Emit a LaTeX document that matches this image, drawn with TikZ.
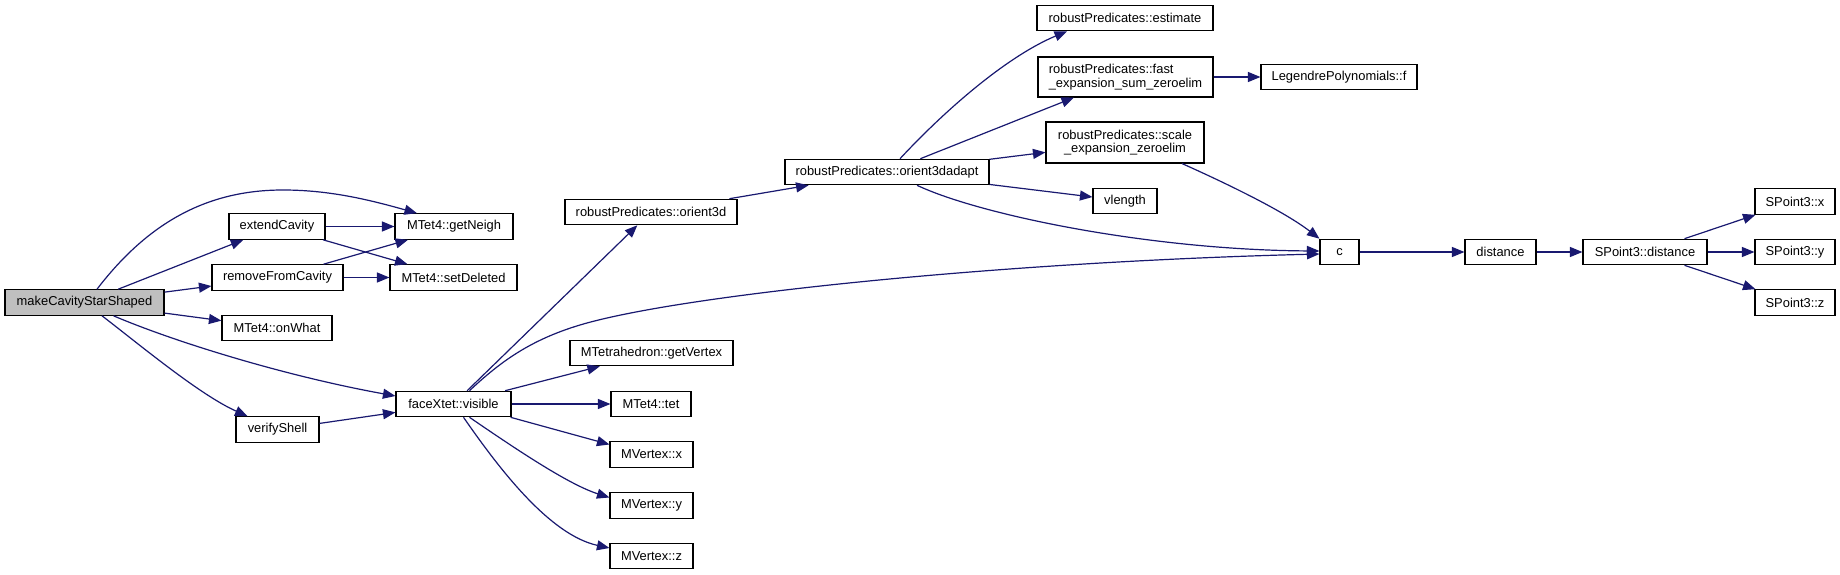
\documentclass[tikz,border=0pt]{standalone}
\usepackage{fontspec}
\setmainfont{Liberation Sans}
\usetikzlibrary{arrows.meta}
\definecolor{edgecol}{HTML}{191970}
\definecolor{rootfill}{HTML}{BFBFBF}
\tikzset{
  fn/.style={draw=black, line width=1.1pt, fill=white, rectangle, inner sep=0pt,
    minimum height=25.5pt, font=\fontsize{12.9}{13.6}\selectfont},
  rootfn/.style={fn, fill=rootfill},
  e/.style={draw=edgecol, line width=1.2pt, -{Triangle[length=12.5pt,width=10pt]}}
}
\begin{document}
\begin{tikzpicture}[x=1pt,y=-1pt]
\fill[white] (0,0) rectangle (1840,575);
\useasboundingbox (0,0) rectangle (1840,575);
% nodes
\node[rootfn, minimum width=159pt] (mk) at (84.5,302.5) {makeCavityStarShaped};
\node[fn, minimum width=96pt] (ext) at (277,226.5) {extendCavity};
\node[fn, minimum width=118pt] (gn) at (454,226.5) {MTet4::getNeigh};
\node[fn, minimum width=131pt] (rem) at (277.5,277.5) {removeFromCavity};
\node[fn, minimum width=127pt] (sd) at (453.5,277.5) {MTet4::setDeleted};
\node[fn, minimum width=110pt] (ow) at (277,328) {MTet4::onWhat};
\node[fn, minimum width=115pt] (vis) at (453.5,404) {faceXtet::visible};
\node[fn, minimum width=83pt] (ver) at (277.5,429.5) {verifyShell};
\node[fn, minimum width=172pt] (o3) at (651,212) {robustPredicates::orient3d};
\node[fn, minimum width=204pt] (o3a) at (887,172) {robustPredicates::orient3dadapt};
\node[fn, minimum width=163pt] (gv) at (651.5,353) {MTetrahedron::getVertex};
\node[fn, minimum width=80pt] (tet) at (651,404) {MTet4::tet};
\node[fn, minimum width=83pt] (vx) at (651.5,454.5) {MVertex::x};
\node[fn, minimum width=83pt] (vy) at (651.5,505.5) {MVertex::y};
\node[fn, minimum width=83pt] (vz) at (651.5,556) {MVertex::z};
\node[fn, minimum width=176pt] (est) at (1125,18) {robustPredicates::estimate};
\node[fn, minimum width=175pt, minimum height=40pt, align=left] (fast) at (1125.5,77) {robustPredicates::fast\\\_expansion\_sum\_zeroelim};
\node[fn, minimum width=156pt] (leg) at (1339,77) {LegendrePolynomials::f};
\node[fn, minimum width=158pt, minimum height=41pt, align=center] (scl) at (1125,142.5) {robustPredicates::scale\\\_expansion\_zeroelim};
\node[fn, minimum width=64pt] (vl) at (1125,201) {vlength};
\node[fn, minimum width=39pt] (c) at (1339.5,252) {c};
\node[fn, minimum width=71pt] (dist) at (1500.5,252) {distance};
\node[fn, minimum width=124pt] (spd) at (1645,252) {SPoint3::distance};
\node[fn, minimum width=80pt] (spx) at (1795,201.5) {SPoint3::x};
\node[fn, minimum width=80pt] (spy) at (1795,252) {SPoint3::y};
\node[fn, minimum width=80pt] (spz) at (1795,302.5) {SPoint3::z};
% edges from makeCavityStarShaped
\draw[e] ([xshift=12.5pt]mk.north) .. controls (150,220) and (210,190) .. (283,190)
  .. controls (330,190) and (370,200) .. ([xshift=-37pt]gn.north);
\draw[e] (mk) -- (ext);
\draw[e] (mk) -- (rem);
\draw[e] (mk) -- (ow);
\draw[e] ([xshift=29pt]mk.south) .. controls (170,340) and (280,375) .. ([yshift=8pt]vis.west);
\draw[e] ([xshift=17.5pt]mk.south) .. controls (140,345) and (200,395) .. ([xshift=-30pt]ver.north);
% second column
\draw[e] (ext) -- (gn);
\draw[e] (ext) -- (sd);
\draw[e] (rem) -- (gn);
\draw[e] (rem) -- (sd);
\draw[e] (ver) -- (vis);
% from faceXtet::visible
\draw[e] (vis) -- (o3);
\draw[e] ([xshift=16pt]vis.north) .. controls (500,362) and (530,340) .. (580,325)
  .. controls (680,295) and (1000,262) .. ([yshift=-2pt]c.west);
\draw[e] (vis) -- (gv);
\draw[e] (vis) -- (tet);
\draw[e] ([xshift=-1pt]vis.south east) -- ([yshift=10pt]vx.west);
\draw[e] ([xshift=16pt]vis.south) .. controls (520,452) and (570,485) .. ([yshift=8pt]vy.west);
\draw[e] ([xshift=10pt]vis.south) .. controls (500,470) and (550,535) .. ([yshift=8pt]vz.west);
% orient3d chain
\draw[e] (o3) -- (o3a);
\draw[e] ([xshift=13pt]o3a.north) .. controls (950,105) and (1010,55) .. ([xshift=-58pt]est.south);
\draw[e] (o3a) -- (fast);
\draw[e] (o3a) -- (scl);
\draw[e] (o3a) -- (vl);
\draw[e] ([xshift=30pt]o3a.south) .. controls (980,215) and (1150,250) .. ([yshift=1pt]c.west);
\draw[e] (fast) -- (leg);
\draw[e] ([xshift=57pt]scl.south) .. controls (1230,185) and (1285,212) .. (c.north west);
% right part
\draw[e] (c) -- (dist);
\draw[e] (dist) -- (spd);
\draw[e] (spd) -- (spx);
\draw[e] (spd) -- (spy);
\draw[e] (spd) -- (spz);
\end{tikzpicture}
\end{document}
